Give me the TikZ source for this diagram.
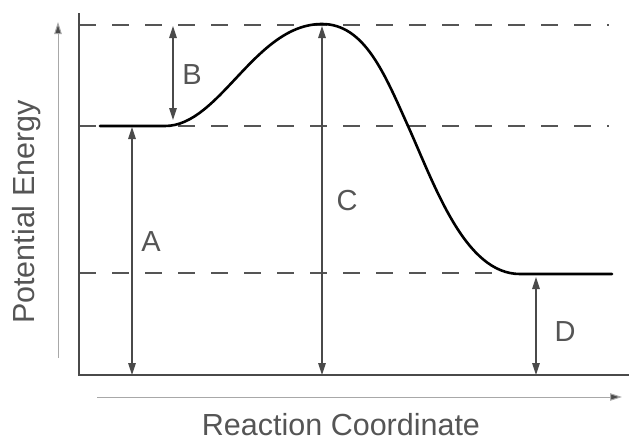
\documentclass[tikz,border=0pt]{standalone}
\usepackage{fontspec}
\setmainfont{Liberation Sans}
\usetikzlibrary{arrows.meta}
\definecolor{txt}{HTML}{555555}
\definecolor{axis}{HTML}{4A4A4A}
\definecolor{light}{HTML}{A8A8A8}
\tikzset{
  lbl/.style={text=txt,font=\fontsize{29}{32}\selectfont,inner sep=0pt},
  axlbl/.style={text=txt,font=\fontsize{30.5}{33}\selectfont,inner sep=0pt},
  dim/.style={draw=axis,line width=1.3pt,{Triangle[length=12pt,width=7.5pt]}-{Triangle[length=12pt,width=7.5pt]}},
  level/.style={draw=txt,line width=1.6pt,dash pattern=on 17pt off 16pt},
  axisline/.style={draw=axis,line width=2pt},
  guide/.style={draw=light,line width=1pt,-{Triangle[length=12pt,width=7.5pt,fill=axis]}},
}
\begin{document}
\begin{tikzpicture}[x=1pt,y=-1pt]
\useasboundingbox (0,0) rectangle (629,442);
% named points
\coordinate (top0) at (79,25);  \coordinate (top1) at (609,25);
\coordinate (mid0) at (79,126); \coordinate (mid1) at (609,126);
\coordinate (low0) at (79,273); \coordinate (low1) at (508,273);
\coordinate (origin) at (79,375);
\coordinate (ytop) at (79,13);
\coordinate (xend) at (629,375);
% dashed levels
\draw[level] (top0) -- (top1);
\draw[level] (mid0) -- (mid1);
\draw[level] (low0) -- (low1);
% axes
\draw[axisline] (ytop) -- (origin) -- (xend);
% guide arrows
\coordinate (g0) at (58,358); \coordinate (g1) at (58,22);
\draw[guide] (g0) -- (g1);
\coordinate (h0) at (97,397); \coordinate (h1) at (622,397);
\draw[guide] (h0) -- (h1);
% energy curve
\coordinate (s) at (100,126);
\coordinate (r) at (165,126);
\coordinate (peak) at (322,24);
\coordinate (inf) at (408,126);
\coordinate (p) at (520,274);
\coordinate (e) at (612,274);
\draw[black,line width=2.6pt,line cap=round]
  (s) -- (r) .. controls (220,126) and (255,24) .. (peak)
  .. controls (365,24) and (385,75) .. (inf)
  .. controls (435,186) and (465,274) .. (p) -- (e);
% dimension arrows
\coordinate (Atop) at (132,127); \coordinate (Abot) at (132,375);
\coordinate (Btop) at (173,26);  \coordinate (Bbot) at (173,120);
\coordinate (Ctop) at (322,26);  \coordinate (Cbot) at (322,375);
\coordinate (Dtop) at (536,277); \coordinate (Dbot) at (536,375);
\draw[dim] (Atop) -- (Abot);
\draw[dim] (Btop) -- (Bbot);
\draw[dim] (Ctop) -- (Cbot);
\draw[dim] (Dtop) -- (Dbot);
% labels
\node[lbl] (la) at (151,242) {A};
\node[lbl] (lb) at (192,75) {B};
\node[lbl] (lc) at (347,201) {C};
\node[lbl] (ld) at (565,332) {D};
\node[axlbl,rotate=90,anchor=base] (ylab) at (34,212) {Potential Energy};
\node[axlbl,anchor=base] (xlab) at (341,435) {Reaction Coordinate};
\end{tikzpicture}
\end{document}
